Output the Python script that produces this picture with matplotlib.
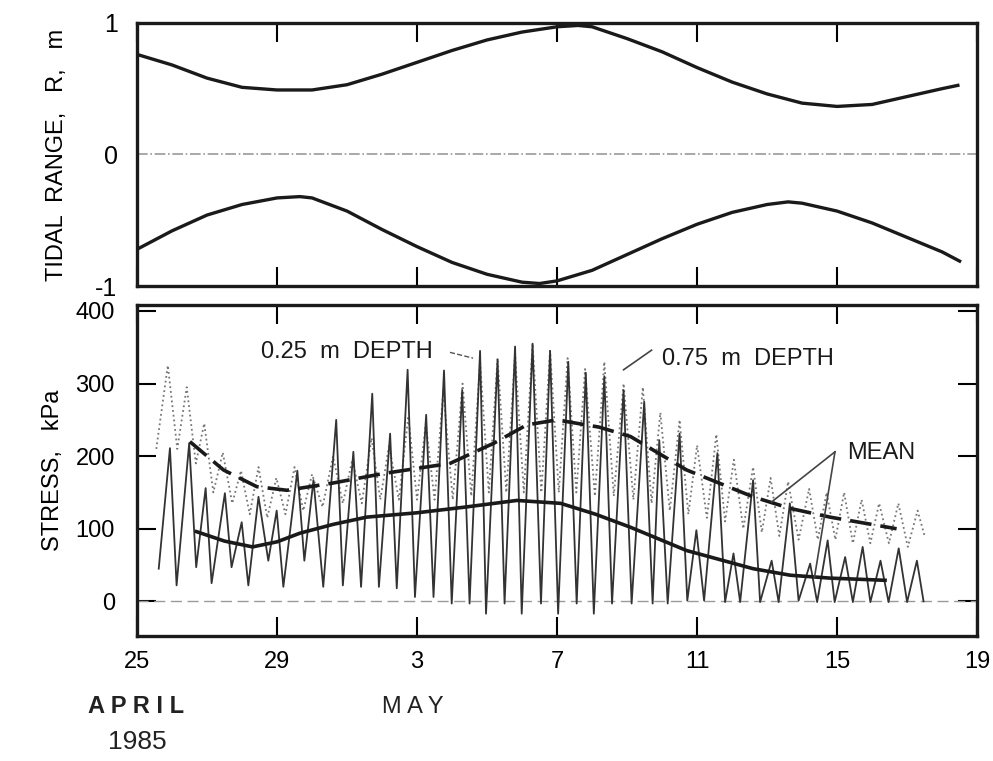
import matplotlib.pyplot as plt

plt.rcParams['font.family'] = ['Liberation Sans', 'DejaVu Sans']

# days counted from 25 April 1985
tide_day = [0, 1, 2, 3, 4, 5, 6, 7, 8, 9, 10, 11, 12, 12.6, 13, 14, 15, 16,
            17, 18, 19, 20, 21, 22, 23, 23.45]
tide_high = [0.76, 0.68, 0.58, 0.51, 0.49, 0.49, 0.53, 0.61, 0.70, 0.79, 0.87,
             0.93, 0.97, 0.98, 0.97, 0.88, 0.78, 0.66, 0.55, 0.46, 0.39, 0.365,
             0.38, 0.44, 0.50, 0.525]
low_day = [0, 1, 2, 3, 4, 4.65, 5, 6, 7, 8, 9, 10, 11, 11.5, 12, 13, 14, 15,
           16, 17, 18, 18.6, 19, 20, 21, 22, 23, 23.5]
tide_low = [-0.72, -0.58, -0.46, -0.38, -0.33, -0.32, -0.33, -0.43, -0.57, -0.70,
            -0.82, -0.91, -0.97, -0.98, -0.96, -0.88, -0.76, -0.64, -0.53, -0.44,
            -0.38, -0.36, -0.37, -0.43, -0.52, -0.63, -0.74, -0.81]

# stress record at 0.25 m depth (peaks and troughs)
s25_day = [0.62, 0.94, 1.13, 1.49, 1.69, 1.96, 2.13, 2.51, 2.70, 2.99, 3.18, 3.47,
           3.75, 3.99, 4.18, 4.58, 4.78, 5.04, 5.32, 5.69, 5.88, 6.18, 6.40, 6.72,
           6.91, 7.23, 7.42, 7.73, 7.94, 8.26, 8.47, 8.77, 8.99, 9.29, 9.50, 9.80,
           9.97, 10.30, 10.50, 10.80, 10.99, 11.30, 11.54, 11.80, 12.03, 12.32, 12.56,
           12.82, 13.05, 13.35, 13.57, 13.90, 14.13, 14.49, 14.73, 14.92, 15.16, 15.50,
           15.72, 15.98, 16.20, 16.58, 16.80, 17.04, 17.23, 17.60, 17.80, 18.13, 18.33,
           18.65, 18.90, 19.23, 19.43, 19.73, 19.93, 20.23, 20.45, 20.73, 20.95, 21.24,
           21.47, 21.76, 22.00, 22.28, 22.47]
s25 = [45, 211, 22, 218, 47, 156, 25, 149, 47, 109, 22, 144,
       56, 125, 20, 180, 56, 167, 20, 250, 22, 206, 20, 286,
       20, 231, 18, 319, 6, 257, 6, 318, -3, 291, -3, 345,
       -17, 333, -3, 351, -17, 355, -3, 345, -17, 330, -3,
       315, -17, 310, -3, 291, -3, 275, -3, 222, -3, 231,
       1, 98, 1, 204, -1, 66, -1, 167, -1, 56, -1,
       135, 1, 52, -1, 84, -1, 61, -1, 75, -1, 56,
       -1, 73, -1, 56, 0]

# stress record at 0.75 m depth
s75_day = [0.55, 0.88, 1.15, 1.42, 1.68, 1.92, 2.18, 2.45, 2.72, 2.97, 3.22, 3.47,
           3.72, 3.98, 4.24, 4.50, 4.75, 5.00, 5.30, 5.60, 5.88, 6.15, 6.42, 6.70,
           6.95, 7.20, 7.48, 7.75, 8.00, 8.25, 8.50, 8.75, 9.02, 9.30, 9.55, 9.80,
           10.05, 10.30, 10.55, 10.80, 11.05, 11.30, 11.55, 11.80, 12.05, 12.30, 12.55,
           12.80, 13.08, 13.35, 13.62, 13.90, 14.18, 14.45, 14.70, 14.95, 15.22, 15.50,
           15.75, 16.00, 16.28, 16.55, 16.80, 17.05, 17.32, 17.60, 17.85, 18.10, 18.35,
           18.60, 18.90, 19.20, 19.45, 19.70, 19.95, 20.20, 20.45, 20.70, 20.95, 21.20,
           21.48, 21.75, 22.02, 22.30, 22.50]
s75 = [210, 325, 210, 295, 190, 245, 150, 205, 135, 180, 120, 185,
       115, 170, 120, 185, 125, 175, 130, 200, 135, 195, 135, 225,
       140, 215, 140, 255, 140, 245, 140, 290, 140, 300, 145, 330,
       150, 335, 150, 340, 150, 355, 150, 345, 150, 335, 150,
       320, 145, 330, 145, 300, 140, 295, 135, 260, 125, 250,
       120, 215, 115, 230, 110, 195, 100, 185, 95, 170, 90,
       165, 85, 155, 85, 150, 85, 150, 80, 140, 80, 135,
       80, 135, 75, 125, 90]

# smoothed means
mean25_day = [1.7, 2.5, 3.3, 4.0, 4.66, 5.6, 6.56, 8.0, 9.4, 10.85, 12.1, 13.1,
              14.1, 15.7, 17.6, 18.66, 19.8, 21.37]
mean25 = [96, 83, 75, 82, 94, 106, 116, 122, 130, 139, 135, 120,
          102, 70, 45, 36, 32, 29]
mean75_day = [1.51, 2.47, 3.42, 4.28, 5.6, 7.03, 8.94, 10.2, 11.13, 11.99, 13.2,
              14.1, 15.7, 17.6, 18.66, 19.8, 21.7]
mean75 = [220, 181, 158, 153, 163, 176, 190, 218, 243, 250, 240,
          227, 181, 144, 128, 116, 100]

day_ticks = [0, 4, 8, 12, 16, 20, 24]
day_labels = ['25', '29', '3', '7', '11', '15', '19']

fig = plt.figure(figsize=(9.93, 7.61), dpi=100)
ax1 = fig.add_axes([0.138, 0.624, 0.846, 0.346])
ax2 = fig.add_axes([0.138, 0.164, 0.846, 0.435])

ink = '#1a1a1a'

# tidal range envelope
ax1.plot(tide_day, tide_high, color=ink, lw=2.4)
ax1.plot(low_day, tide_low, color=ink, lw=2.4)
ax1.axhline(0, color='#9a9a9a', lw=1.2, ls='-.')
ax1.set_xlim(0, 24)
ax1.set_ylim(-1, 1)
ax1.set_yticks([-1, 0, 1])
ax1.set_yticklabels(['-1', '0', '1'])
ax1.set_xticks(day_ticks)
ax1.set_xticklabels([])
ax1.tick_params(axis='x', direction='in', length=14, width=1.5, top=True, bottom=True)
ax1.tick_params(axis='y', length=0, labelsize=18, pad=14)
ax1.set_ylabel('TIDAL  RANGE,   R,   m', fontsize=17, labelpad=20)

# stress traces
ax2.axhline(0, color='#9a9a9a', lw=1.0, ls='--', dashes=(8, 4))
ax2.plot(s75_day, s75, color='#777777', lw=1.3, ls=':')
ax2.plot(s25_day, s25, color='#333333', lw=1.3)
ax2.plot(mean25_day, mean25, color=ink, lw=2.6)
ax2.plot(mean75_day, mean75, color=ink, lw=2.6, ls=(0, (6, 2.5)))
ax2.set_xlim(0, 24)
ax2.set_ylim(-48, 408)
ax2.set_yticks([0, 100, 200, 300, 400])
ax2.set_xticks(day_ticks)
ax2.set_xticklabels(day_labels)
ax2.tick_params(axis='both', direction='in', length=14, width=1.5, labelsize=17,
                top=True, right=True, pad=11)
ax2.tick_params(axis='y', pad=16)
ax2.set_ylabel('STRESS,   kPa', fontsize=17, labelpad=8)

for ax in (ax1, ax2):
    for sp in ax.spines.values():
        sp.set_linewidth(2.4)
        sp.set_color(ink)

# labels and leaders
ax2.text(3.55, 344, '0.25  m  DEPTH', fontsize=17, color=ink, va='center')
ax2.plot([8.94, 9.6], [343, 335], color='#555555', lw=1.0, ls='--')
ax2.text(15.0, 334, '0.75  m  DEPTH', fontsize=17, color=ink, va='center')
ax2.plot([14.7, 13.9], [346, 319], color='#444444', lw=1.2)
ax2.text(20.3, 204, 'MEAN', fontsize=17, color=ink, va='center')
ax2.plot([19.94, 18.13], [206, 137], color='#444444', lw=1.2)
ax2.plot([19.94, 19.35], [206, 32], color='#444444', lw=1.2)

fig.text(0.137, 0.071, 'A P R I L', fontsize=17, ha='center', va='center',
         weight='bold', color='#222222')
fig.text(0.138, 0.025, '1985', fontsize=19, ha='center', va='center', color='#222222')
fig.text(0.416, 0.071, 'M A Y', fontsize=17, ha='center', va='center', color='#222222')

fig.savefig('out.png', dpi=100)
